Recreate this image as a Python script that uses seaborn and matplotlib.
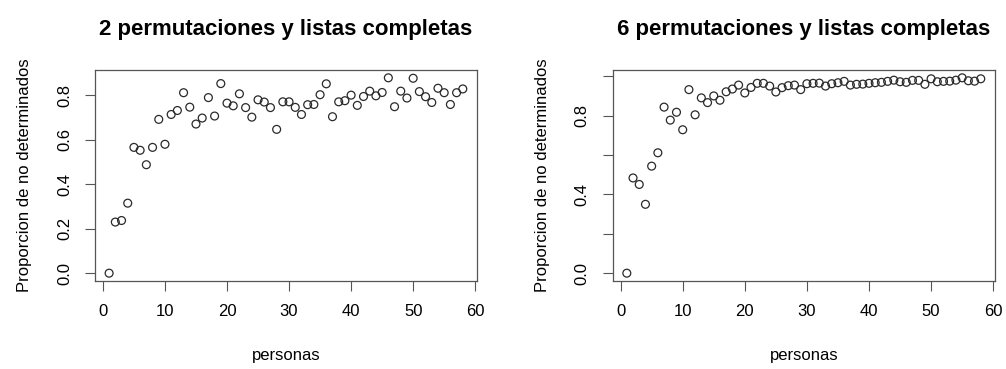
import numpy as np
import pandas as pd
import matplotlib
matplotlib.use("Agg")
import matplotlib.pyplot as plt
import seaborn as sns

# Datos
personas = list(range(1, 59))

prop_2perm = [0.000, 0.230, 0.237, 0.315, 0.566, 0.553, 0.488, 0.566, 0.692, 0.580,
              0.714, 0.732, 0.812, 0.747, 0.671, 0.698, 0.790, 0.707, 0.853, 0.765,
              0.753, 0.807, 0.745, 0.702, 0.780, 0.770, 0.745, 0.647, 0.771, 0.771,
              0.746, 0.714, 0.758, 0.759, 0.803, 0.852, 0.704, 0.771, 0.776, 0.801,
              0.755, 0.795, 0.819, 0.798, 0.813, 0.879, 0.749, 0.819, 0.788, 0.877,
              0.817, 0.794, 0.768, 0.832, 0.812, 0.759, 0.812, 0.829]

prop_6perm = [0.000, 0.484, 0.451, 0.350, 0.544, 0.612, 0.844, 0.778, 0.818, 0.729,
              0.933, 0.805, 0.891, 0.867, 0.901, 0.879, 0.922, 0.936, 0.956, 0.916,
              0.944, 0.965, 0.965, 0.951, 0.921, 0.943, 0.953, 0.956, 0.933, 0.963,
              0.965, 0.966, 0.951, 0.963, 0.968, 0.975, 0.956, 0.960, 0.961, 0.965,
              0.968, 0.970, 0.975, 0.981, 0.973, 0.970, 0.980, 0.980, 0.960, 0.988,
              0.973, 0.975, 0.976, 0.981, 0.993, 0.978, 0.976, 0.988]

titulos = ["2 permutaciones y listas completas", "6 permutaciones y listas completas"]

sns.set_theme(style="white")
plt.rcParams['font.family'] = ['Liberation Sans', 'DejaVu Sans']
plt.rcParams['text.color'] = 'black'
plt.rcParams['axes.labelcolor'] = 'black'
plt.rcParams['xtick.labelcolor'] = 'black'
plt.rcParams['ytick.labelcolor'] = 'black'

fig = plt.figure(figsize=(10.06, 3.69), dpi=100)
ax1 = fig.add_axes([0.0944, 0.2385, 0.3797, 0.5718])
ax2 = fig.add_axes([0.609, 0.2385, 0.380, 0.5718])

paneles = [
    (ax1, prop_2perm, titulos[0], [0.0, 0.2, 0.4, 0.6, 0.8], ["0.0", "0.2", "0.4", "0.6", "0.8"]),
    (ax2, prop_6perm, titulos[1], [0.0, 0.2, 0.4, 0.6, 0.8, 1.0], ["0.0", "", "0.4", "", "0.8", ""]),
]

for ax, valores, titulo, yt, ytl in paneles:
    df = pd.DataFrame({"personas": personas, "prop": valores})
    sns.scatterplot(data=df, x="personas", y="prop", ax=ax, marker="o", s=32,
                    facecolor="none", edgecolor="#2a2a2a", linewidth=0.9)
    rango = max(valores) - min(valores)
    ax.set_xlim(1 - 0.04 * 57, 58 + 0.04 * 57)
    ax.set_ylim(min(valores) - 0.04 * rango, max(valores) + 0.04 * rango)
    ax.set_xticks([0, 10, 20, 30, 40, 50, 60])
    ax.set_yticks(yt)
    ax.set_yticklabels(ytl, rotation=90, va="center")
    ax.tick_params(axis="both", direction="out", length=7.5, width=0.8, color="#555555",
                   labelsize=12, pad=9, left=True, bottom=True)
    for sp in ax.spines.values():
        sp.set_color("#555555")
        sp.set_linewidth(0.9)
    ax.set_title(titulo, fontsize=16, fontweight="bold", pad=25)
    ax.set_xlabel("personas", fontsize=12, labelpad=21)
    ax.set_ylabel("Proporcion de no determinados", fontsize=12, labelpad=18)

fig.savefig("out.png", dpi=100)
